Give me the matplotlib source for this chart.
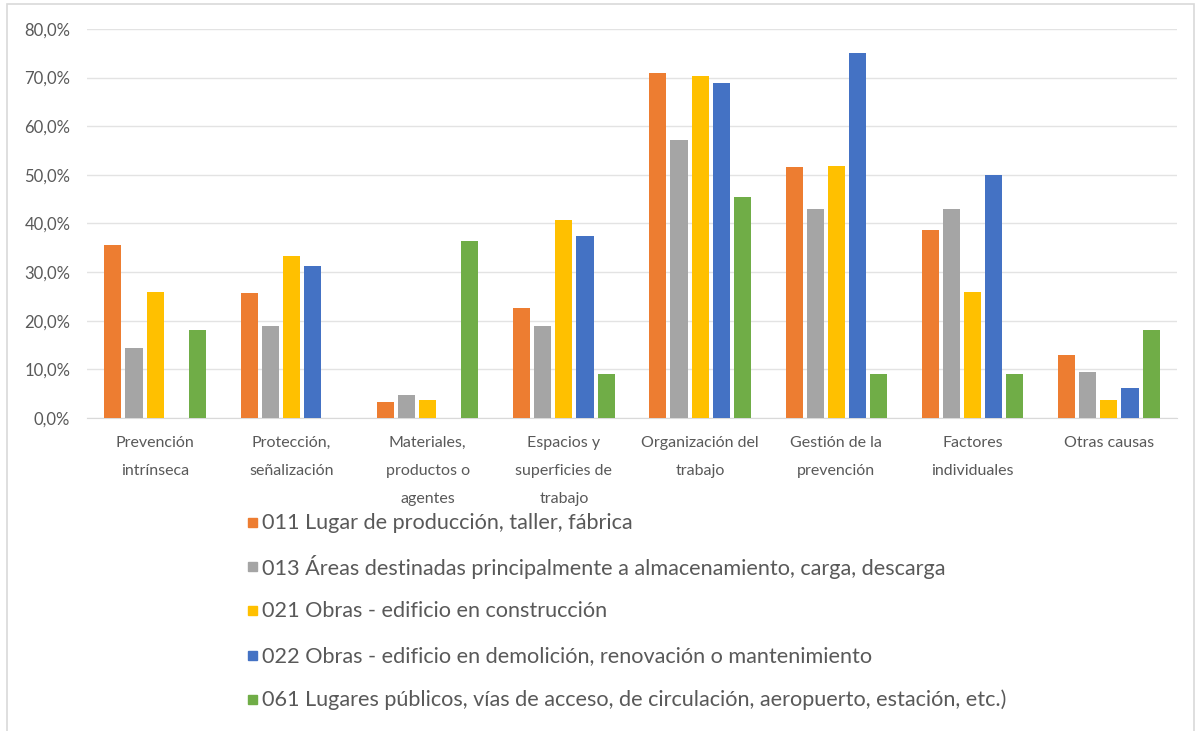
import numpy as np
import matplotlib.pyplot as plt
from matplotlib.patches import Rectangle
from matplotlib.ticker import FuncFormatter
from matplotlib.font_manager import FontProperties

plt.rcParams['font.family'] = ['Lato', 'DejaVu Sans']

categories = [
    "Prevención\nintrínseca",
    "Protección,\nseñalización",
    "Materiales,\nproductos o\nagentes",
    "Espacios y\nsuperficies de\ntrabajo",
    "Organización del\ntrabajo",
    "Gestión de la\nprevención",
    "Factores\nindividuales",
    "Otras causas",
]

series_names = [
    "011 Lugar de producción, taller, fábrica",
    "013 Áreas destinadas principalmente a almacenamiento, carga, descarga",
    "021 Obras - edificio en construcción",
    "022 Obras - edificio en demolición, renovación o mantenimiento",
    "061 Lugares públicos, vías de acceso, de circulación, aeropuerto, estación, etc.)",
]

lugar_produccion = [35.5, 25.8, 3.2, 22.6, 71.0, 51.6, 38.7, 12.9]
areas_almacen = [14.3, 19.0, 4.8, 19.0, 57.1, 42.9, 42.9, 9.5]
obras_construccion = [25.9, 33.3, 3.7, 40.7, 70.4, 51.9, 25.9, 3.7]
obras_demolicion = [0.0, 31.2, 0.0, 37.5, 68.8, 75.0, 50.0, 6.2]
lugares_publicos = [18.2, 0.0, 36.4, 9.1, 45.5, 9.1, 9.1, 18.2]

values = [lugar_produccion, areas_almacen, obras_construccion,
          obras_demolicion, lugares_publicos]
colors = ["#ED7D31", "#A5A5A5", "#FFC000", "#4472C4", "#70AD47"]

W, H = 1198, 731
fig = plt.figure(figsize=(W / 100, H / 100), dpi=100)
ax = fig.add_axes([87 / W, 1 - 418 / H, 1090 / W, 389 / H])

x = np.arange(len(categories))
step = 0.155
width = 0.125
for i, (vals, col) in enumerate(zip(values, colors)):
    ax.bar(x + (i - 2) * step, vals, width=width, color=col, zorder=3)

# line spacing of the category labels: ~25 px between lines
lab_size = 11.5
renderer = fig.canvas.get_renderer()
_, lp_h, lp_d = renderer.get_text_width_height_descent(
    "lp", FontProperties(family=['Lato', 'DejaVu Sans'], size=lab_size), ismath=False)
lab_spacing = 25.0 / (lp_h - lp_d)

ax.set_xlim(-0.5, len(categories) - 0.5)
ax.set_ylim(0, 80)
ax.set_yticks(np.arange(0, 81, 10))
ax.yaxis.set_major_formatter(FuncFormatter(lambda v, p: f"{v:.1f}%".replace(".", ",")))
ax.set_xticks(x)
ax.set_xticklabels(categories, fontsize=lab_size, color="#595959", linespacing=lab_spacing)
ax.tick_params(axis="y", labelsize=12, labelcolor="#595959", length=0, pad=12)
ax.tick_params(axis="x", length=0, pad=13)
ax.grid(axis="y", color="#E3E3E3", linewidth=1, zorder=0)
for s in ["top", "right", "left"]:
    ax.spines[s].set_visible(False)
ax.spines["bottom"].set_color("#D9D9D9")

# legend, one entry per row below the plot
row_y = [523, 567, 611, 656, 700]
for name, col, yy in zip(series_names, colors, row_y):
    fig.patches.append(Rectangle((248 / W, 1 - (yy + 4) / H), 9 / W, 9 / H,
                                 transform=fig.transFigure, color=col))
    fig.text(262 / W, 1 - yy / H, name, fontsize=15.6, color="#595959",
             va="center", ha="left")

fig.patches.append(Rectangle((0.006, -0.01), 0.991, 1.004, transform=fig.transFigure,
                             fill=False, edgecolor="#D9D9D9", linewidth=1.2))

fig.savefig("out.png", dpi=100)
